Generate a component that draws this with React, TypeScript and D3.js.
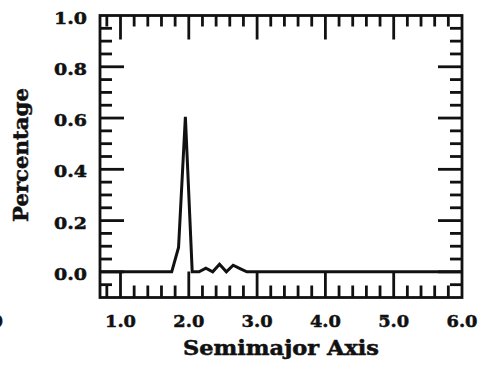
import React from "react";
import * as d3 from "d3";

const semimajor = [0.7, 1.75, 1.85, 1.95, 2.05, 2.15, 2.25, 2.35, 2.45, 2.55, 2.65, 2.75, 2.85, 6.0];
const percentage = [0, 0, 0.095, 0.605, 0, 0, 0.014, 0, 0.03, 0, 0.026, 0.013, 0, 0];

const xMajorTicks = [1, 2, 3, 4, 5];
const xTickLabels = ["1.0", "2.0", "3.0", "4.0", "5.0", "6.0"];
const xLabelValues = [1, 2, 3, 4, 5, 6];
const xMinorTicks = [0.8, 1.2, 1.4, 1.6, 1.8, 2.2, 2.4, 2.6, 2.8, 3.2, 3.4, 3.6, 3.8, 4.2, 4.4, 4.6, 4.8, 5.2, 5.4, 5.6, 5.8];
const yMajorTicks = [0, 0.2, 0.4, 0.6, 0.8];
const yLabelValues = [0, 0.2, 0.4, 0.6, 0.8, 1.0];
const yTickLabels = ["0.0", "0.2", "0.4", "0.6", "0.8", "1.0"];
const yMinorTicks = [-0.05, 0.05, 0.1, 0.15, 0.25, 0.3, 0.35, 0.45, 0.5, 0.55, 0.65, 0.7, 0.75, 0.85, 0.9, 0.95];

const W = 485;
const H = 371;
const FONT = "'DejaVu Serif', serif";
const INK = "#111";

export default function App() {
  const x = d3.scaleLinear().domain([0.7, 6.0]).range([100, 462]);
  const y = d3.scaleLinear().domain([-0.1, 1.0]).range([297.5, 15.5]);
  const pts: [number, number][] = semimajor.map((s, i) => [s, percentage[i]]);
  const line = d3
    .line<[number, number]>()
    .x((d) => x(d[0]))
    .y((d) => y(d[1]));

  const [x0, x1] = x.range();
  const [yb, yt] = y.range();
  const majLen = 25;
  const minLen = 12;
  const sw = 2.8;

  return (
    <svg
      width={W}
      height={H}
      style={{ position: "absolute", left: 0, top: 0, background: "#fff" }}
    >
      <rect x={0} y={0} width={W} height={H} fill="#fff" />
      <g stroke={INK} strokeWidth={sw} fill="none" strokeLinecap="butt">
        {xMajorTicks.map((v) => (
          <g key={"xm" + v}>
            <line x1={x(v)} x2={x(v)} y1={yb} y2={yb - 26} />
            <line x1={x(v)} x2={x(v)} y1={yt} y2={yt + majLen - 1} />
          </g>
        ))}
        {xMinorTicks.map((v) => (
          <g key={"xn" + v}>
            <line x1={x(v)} x2={x(v)} y1={yb} y2={yb - minLen} />
            <line x1={x(v)} x2={x(v)} y1={yt} y2={yt + minLen - 1} />
          </g>
        ))}
        {yMajorTicks.map((v) => (
          <g key={"ym" + v}>
            <line x1={x0} x2={x0 + majLen - 1} y1={y(v)} y2={y(v)} />
            <line x1={x1} x2={x1 - majLen + 1} y1={y(v)} y2={y(v)} />
          </g>
        ))}
        {yMinorTicks.map((v) => (
          <g key={"yn" + v}>
            <line x1={x0} x2={x0 + minLen} y1={y(v)} y2={y(v)} />
            <line x1={x1} x2={x1 - minLen} y1={y(v)} y2={y(v)} />
          </g>
        ))}
        <rect x={x0} y={yt} width={x1 - x0} height={yb - yt} />
        <path d={line(pts) || ""} strokeWidth={3} strokeLinejoin="miter" />
      </g>
      <g
        fontFamily={FONT}
        fontWeight="bold"
        fill={INK}
        stroke={INK}
        strokeWidth={0.5}
        fontSize={17.5}
      >
        {xLabelValues.map((v, i) => (
          <text
            key={"xl" + v}
            x={x(v) - 15.5}
            y={327}
            textLength={31}
            lengthAdjust="spacingAndGlyphs"
          >
            {xTickLabels[i]}
          </text>
        ))}
        {yLabelValues.map((v, i) => (
          <text
            key={"yl" + v}
            x={87 - 33}
            y={y(v) + 8}
            textLength={33}
            lengthAdjust="spacingAndGlyphs"
          >
            {yTickLabels[i]}
          </text>
        ))}
        <text x={3} y={327} textAnchor="end">6.0</text>
        <text
          x={183}
          y={355}
          fontSize={20}
          textLength={196}
          lengthAdjust="spacingAndGlyphs"
        >
          Semimajor Axis
        </text>
        <text
          transform={`translate(28,222) rotate(-90)`}
          fontSize={20}
          textLength={134}
          lengthAdjust="spacingAndGlyphs"
        >
          Percentage
        </text>
      </g>
    </svg>
  );
}
